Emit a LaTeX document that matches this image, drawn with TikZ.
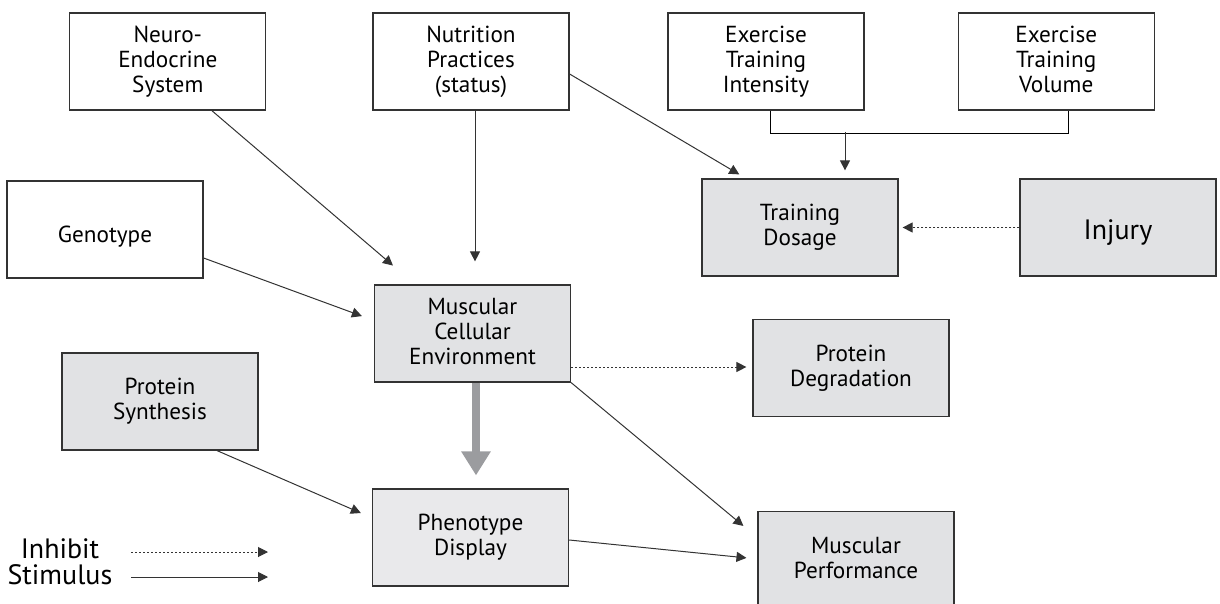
\documentclass[tikz,border=0pt]{standalone}
\usepackage{fontspec}
\setmainfont{PT Sans}
\setsansfont{PT Sans}
\usetikzlibrary{arrows.meta, positioning, calc}
\definecolor{cbox}{HTML}{E1E2E4}
\definecolor{cboxlight}{HTML}{E9E9EB}
\definecolor{cline}{HTML}{333333}
\definecolor{cthick}{HTML}{9B9C9F}
\tikzset{
  every picture/.style={font=\sffamily, line width=0.5pt},
  box/.style={draw=cline, fill=#1, line width=0.6pt, align=center, inner sep=0pt,
    minimum width=98pt, minimum height=48.5pt, font=\sffamily\fontsize{11.6}{12.5}\selectfont,
    execute at begin node=\rule{0pt}{15pt}, execute at end node=\vphantom{y}},
  box/.default=white,
  arrow/.style={-{Triangle[length=5pt, width=5pt]}, draw=cline},
  inhibit/.style={arrow, dash pattern=on 1pt off 1pt},
  bigarrow/.style={-{Triangle[length=12pt, width=14pt]}, draw=cthick, line width=4pt},
  legend/.style={font=\sffamily\fontsize{14}{14}\selectfont, inner sep=0pt},
}

\begin{document}
\begin{tikzpicture}[x=0.5pt, y=-0.5pt]
  \useasboundingbox (0,0) rectangle (1220,604);
  % top row
  \node[box] (nutri) at (471,61.5) {Nutrition\\Practices\\(status)};
  \node[box, left=53pt of nutri] (neuro) {Neuro-\\Endocrine\\System};
  \node[box] (intens) at (766,61.5) {Exercise\\Training\\Intensity};
  \node[box, right=46.5pt of intens] (volume) {Exercise\\Training\\Volume};
  % middle
  \node[box] (geno) at (105,229.5) {Genotype};
  \node[box=cbox] (dosage) at (800,227.5) {Training\\Dosage};
  \node[box=cbox, font=\sffamily\fontsize{14}{15}\selectfont] (injury) at (1118,227.5) {Injury};
  \node[box=cbox] (mce) at (472.5,333.5) {Muscular\\Cellular\\Environment};
  \node[box=cbox] (degr) at (851,368) {Protein\\Degradation};
  \node[box=cbox] (synth) at (160,401.5) {Protein\\Synthesis};
  \node[box=cboxlight] (pheno) at (470.5,537.5) {Phenotype\\Display};
  \node[box=cbox] (perf) at (856,560) {Muscular\\Performance};
  % legend
  \node[legend] (inh) at (60,549) {Inhibit};
  \node[legend] (stim) at (60,575) {Stimulus};
  \coordinate (inhA) at (131,552);
  \coordinate (stimA) at (131,577);
  \coordinate (join) at ($(dosage.north)+(45,-46)$);

  \draw[arrow, shorten >=14.5pt] ($(neuro.south)+(44,0)$) -- ($(mce.north)+(-57.5,0)$);
  \draw[arrow, shorten >=11.5pt] ($(nutri.south)+(4,0)$) -- ($(mce.north)+(2.5,0)$);
  \draw[arrow, shorten >=3.9pt] ($(nutri.east)+(0,12.5)$) -- ($(dosage.north)+(-54,0)$);
  \draw ($(intens.south)+(4,0)$) -- ++(0,23) -| ($(volume.south)+(12,0)$);
  \draw[arrow, shorten >=4pt] (join) -- ($(dosage.north)+(45,0)$);
  \draw[inhibit, shorten >=2pt] (injury.west) -- (dosage.east);
  \draw[arrow, shorten >=6.4pt] ($(geno.east)+(0,28.5)$) -- ($(mce.west)+(0,-13)$);
  \draw[inhibit, shorten >=3pt] ($(mce.east)+(0,33.5)$) -- ($(degr.west)+(0,-1)$);
  \draw[arrow, shorten >=9.1pt] (mce.south east) -- ($(perf.west)+(0,-22.4)$);
  \draw[bigarrow, shorten >=6.5pt] ($(mce.south)+(3.5,0)$) -- ($(pheno.north)+(5.5,0)$);
  \draw[arrow, shorten >=6pt] ($(synth.south)+(57,0)$) -- ($(pheno.west)+(0,-19.7)$);
  \draw[arrow, shorten >=5.5pt] ($(pheno.east)+(0,2.5)$) -- ($(perf.west)+(0,-1)$);
  \draw[inhibit] (inhA) -- ++(137,0);
  \draw[arrow] (stimA) -- ++(137,0);
\end{tikzpicture}
\end{document}
